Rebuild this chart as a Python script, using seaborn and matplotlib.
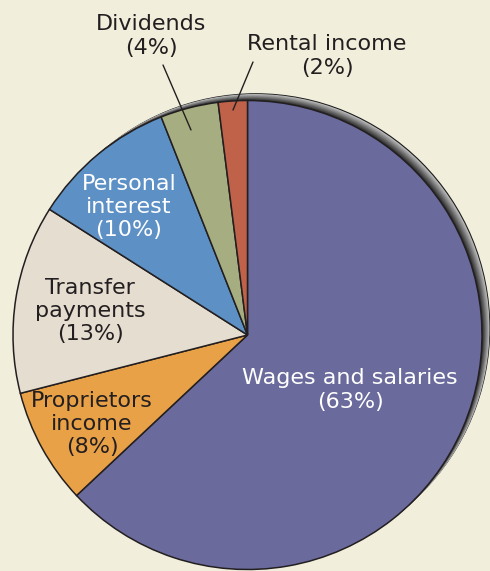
import matplotlib
matplotlib.use("Agg")
import matplotlib.pyplot as plt
import seaborn as sns
from matplotlib.patches import Circle

# ---- data ----
categories = ["Wages and salaries", "Proprietors\nincome", "Transfer\npayments",
              "Personal\ninterest", "Dividends", "Rental income"]
shares = [63, 8, 13, 10, 4, 2]
hex_colors = ["#6A6A9C", "#E9A147", "#E6DDD1", "#5D90C5", "#A6AD80", "#C0614A"]

sns.set_theme(style="white")
plt.rcParams["font.family"] = ["DejaVu Sans"]
palette = sns.color_palette(hex_colors)

BG = "#F1EEDC"
fig = plt.figure(figsize=(4.9, 5.71), dpi=100, facecolor=BG)
ax = fig.add_axes([0, 0, 1, 1])
ax.set_facecolor(BG)

cx, cy, r = 247.5, 236, 234.5

# shadow rim (offset up-right) with a grey gradient
dx, dy = 7.5, 6.5
ax.add_patch(Circle((cx + dx + 0.8, cy + dy + 0.8), r, facecolor="#1a1a1a", edgecolor="none", zorder=1))
steps = 10
for k in range(steps):
    t = 1 - k / steps
    g = 0.72 - 0.55 * (k / (steps - 1))
    ax.add_patch(Circle((cx + dx * t, cy + dy * t), r, facecolor=(g, g, g),
                        edgecolor="none", zorder=1.01 + k * 0.01))

wedges, _ = ax.pie(shares, colors=palette, startangle=90, counterclock=False,
                   center=(cx, cy), radius=r, frame=False,
                   wedgeprops=dict(edgecolor="#231F20", linewidth=1.1))
for w in wedges:
    w.set_zorder(2)

dark = "#231F20"
fs = 16
pct = [f"({s}%)" for s in shares]
label_pos = [(350, 181), (92, 147), (90, 260), (129, 364), (151, 535), (327, 515)]
label_col = ["white", dark, dark, "white", dark, dark]
for cat, p, (x, y), c in zip(categories, pct, label_pos, label_col):
    ax.text(x, y, f"{cat}\n{p}", ha="center", va="center", color=c, fontsize=fs,
            linespacing=1.2, zorder=5)

# leader lines
ax.plot([163, 191], [506, 441], color=dark, lw=1.0, zorder=6)
ax.plot([253, 233], [509, 461], color=dark, lw=1.0, zorder=6)

ax.set_xlim(0, 490)
ax.set_ylim(0, 571)
ax.set_aspect("equal")
ax.axis("off")

fig.savefig("out.png", dpi=100, facecolor=BG)
